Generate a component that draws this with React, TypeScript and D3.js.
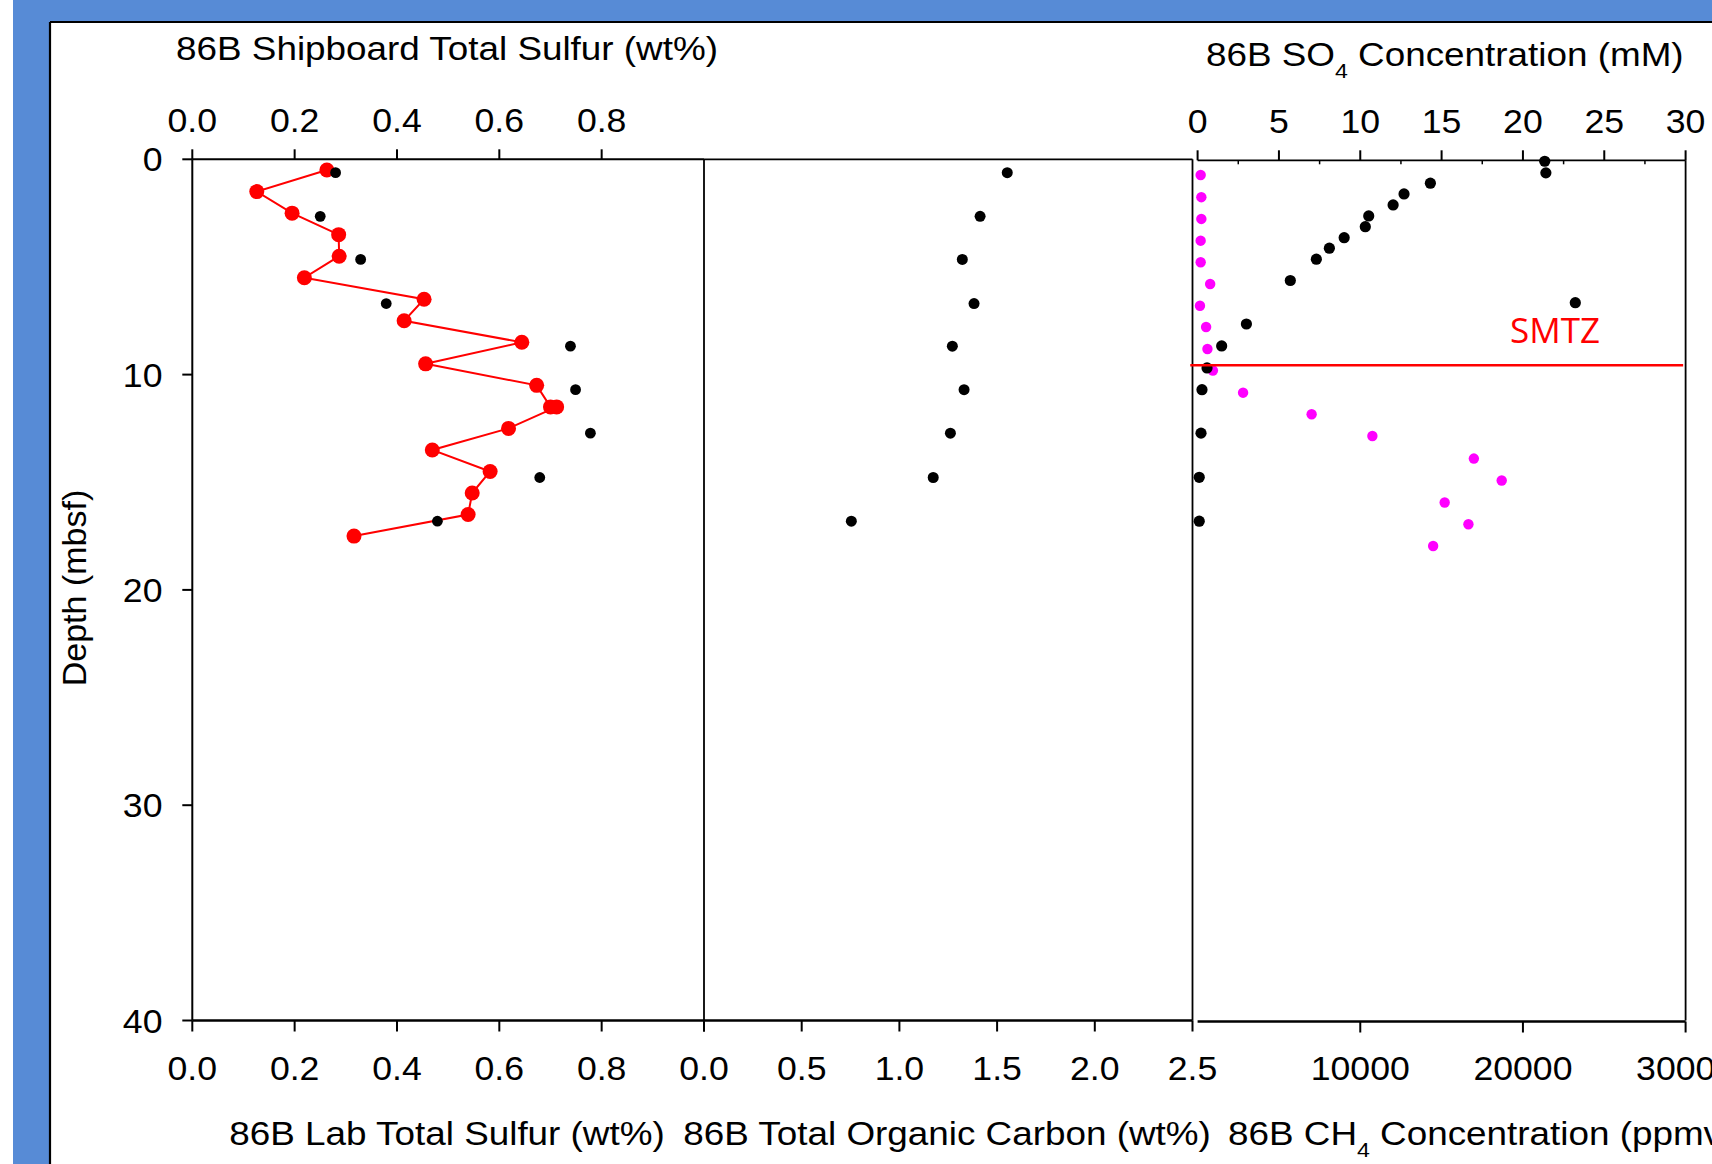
import React from 'react';
import * as d3 from 'd3';

// ---------- data ----------
const depthTicks = [0, 10, 20, 30, 40];
const sulfurTopTicks = [0, 0.2, 0.4, 0.6, 0.8];
const sulfurBottomTicks = [0, 0.2, 0.4, 0.6, 0.8, 1.0];
const sulfurBottomLabels = [0, 0.2, 0.4, 0.6, 0.8];
const tocTicks = [0, 0.5, 1.0, 1.5, 2.0, 2.5];
const so4Ticks = [0, 5, 10, 15, 20, 25, 30];
const so4MinorTicks = [2.5, 7.5, 12.5, 17.5, 22.5, 27.5];
const ch4Ticks = [10000, 20000, 30000];

// Lab total sulfur (red line + large red dots)
const labDepth = [0.5, 1.5, 2.5, 3.5, 4.5, 5.5, 6.5, 7.5, 8.5, 9.5, 10.5, 11.5, 11.5, 12.5, 13.5, 14.5, 15.5, 16.5, 17.5];
const labSulfur = [0.263, 0.126, 0.195, 0.286, 0.287, 0.219, 0.453, 0.414, 0.644, 0.456, 0.673, 0.700, 0.712, 0.618, 0.469, 0.582, 0.547, 0.539, 0.316];

// Shipboard samples (black dots): shipboard total sulfur and TOC
const shipDepth = [0.62, 2.65, 4.65, 6.7, 8.68, 10.7, 12.72, 14.78, 16.81];
const shipSulfur = [0.280, 0.250, 0.329, 0.379, 0.739, 0.749, 0.778, 0.679, 0.479];
const tocValues = [1.552, 1.413, 1.322, 1.382, 1.271, 1.331, 1.261, 1.173, 0.754];

// SO4 (black, top axis)
const so4Depth = [0.09, 0.63, 1.11, 1.61, 2.12, 2.63, 3.13, 3.64, 4.13, 4.64, 5.63, 6.66, 7.65, 8.67, 9.69, 10.7, 12.72, 14.77, 16.81];
const so4Values = [21.34, 21.41, 14.31, 12.69, 12.02, 10.52, 10.31, 9.01, 8.1, 7.3, 5.7, 23.22, 3.0, 1.48, 0.58, 0.27, 0.21, 0.1, 0.1];

// CH4 (magenta, bottom axis)
const ch4Depth = [0.73, 1.76, 2.77, 3.78, 4.78, 5.79, 6.8, 7.79, 8.81, 9.81, 10.84, 11.84, 12.85, 13.9, 14.92, 15.94, 16.95, 17.96];
const ch4Values = [188, 230, 230, 188, 188, 772, 146, 522, 605, 939, 2796, 7010, 10745, 16983, 18694, 15189, 16649, 14480];

const smtzDepth = 9.57;
const smtzLabel = 'SMTZ';

// ---------- layout ----------
const W = 1712;
const H = 1164;
const FONT = "'Liberation Sans', Arial, Helvetica, sans-serif";
const BLUE = '#578BD6';
const TOP = 159.3;
const BOTTOM = 1020.5;

const yScale = d3.scaleLinear().domain([0, 40]).range([TOP, BOTTOM]);
const xSulfur = d3.scaleLinear().domain([0, 1]).range([192.3, 704]);
const xToc = d3.scaleLinear().domain([0, 2.5]).range([704, 1192.5]);
const xSo4 = d3.scaleLinear().domain([0, 30]).range([1197.6, 1685.6]);
const xCh4 = d3.scaleLinear().domain([0, 30000]).range([1197.6, 1685.6]);

const f1 = d3.format('.1f');
const f0 = d3.format('d');

function Txt(props: any) {
  const { x, y, anchor = 'middle', size = 33, sx = 1.08, fill = '#000', family = FONT, children } = props;
  return (
    <text
      transform={`translate(${x},${y}) scale(${sx},1)`}
      textAnchor={anchor}
      fontSize={size}
      fontFamily={family}
      fill={fill}
    >
      {children}
    </text>
  );
}

const TS = 33.5; // title size
const TX = 1.1; // title horizontal stretch

export default function App() {
  const labPts = labDepth.map((d, i) => [labSulfur[i], d] as [number, number]);
  const line = d3
    .line<[number, number]>()
    .x((p) => xSulfur(p[0]))
    .y((p) => yScale(p[1]));

  const axisW = 2;
  const tickLen = 10;

  return (
    <svg
      width={W}
      height={H}
      viewBox={`0 0 ${W} ${H}`}
      style={{ position: 'absolute', left: 0, top: 0, display: 'block' }}
    >
      {/* background frame */}
      <rect x={0} y={0} width={W} height={H} fill={BLUE} />
      <rect x={0} y={0} width={13} height={H} fill="#ffffff" />
      <rect x={50} y={22} width={W - 50} height={H - 22} fill="#ffffff" />
      <line x1={50} y1={22} x2={W} y2={22} stroke="#000" strokeWidth={2.2} />
      <line x1={50} y1={22} x2={50} y2={H} stroke="#000" strokeWidth={2.2} />

      {/* ---------- panel frames ---------- */}
      {/* left panel */}
      <line x1={xSulfur(0)} y1={TOP} x2={xSulfur(0)} y2={BOTTOM} stroke="#000" strokeWidth={axisW} />
      <line x1={xSulfur(0)} y1={TOP} x2={xSulfur(1)} y2={TOP} stroke="#000" strokeWidth={axisW} />
      <line x1={xSulfur(1)} y1={TOP} x2={xSulfur(1)} y2={BOTTOM} stroke="#000" strokeWidth={1.8} />
      <line x1={xSulfur(0)} y1={BOTTOM} x2={xSulfur(1)} y2={BOTTOM} stroke="#000" strokeWidth={2.5} />
      {/* middle panel */}
      <line x1={xToc(0)} y1={TOP} x2={xToc(2.5)} y2={TOP} stroke="#000" strokeWidth={1.8} />
      <line x1={xToc(2.5)} y1={TOP} x2={xToc(2.5)} y2={BOTTOM} stroke="#000" strokeWidth={1.8} />
      <line x1={xToc(0)} y1={BOTTOM} x2={xToc(2.5)} y2={BOTTOM} stroke="#000" strokeWidth={2.5} />
      {/* right panel */}
      <line x1={xSo4(0)} y1={TOP + 1} x2={xSo4(30)} y2={TOP + 1} stroke="#000" strokeWidth={1.8} />
      <line x1={xSo4(30)} y1={TOP + 1} x2={xSo4(30)} y2={BOTTOM} stroke="#000" strokeWidth={1.8} />
      <line x1={xCh4(0)} y1={BOTTOM + 1} x2={xCh4(30000)} y2={BOTTOM + 1} stroke="#000" strokeWidth={2.5} />

      {/* ---------- depth axis ---------- */}
      {depthTicks.map((t) => (
        <g key={'dt' + t}>
          <line x1={xSulfur(0) - tickLen} y1={yScale(t)} x2={xSulfur(0)} y2={yScale(t)} stroke="#000" strokeWidth={2} />
          <Txt x={162.5} y={yScale(t) + 12} anchor="end">{f0(t)}</Txt>
        </g>
      ))}
      <text
        transform={`translate(86,588) rotate(-90)`}
        textAnchor="middle"
        fontSize={34}
        fontFamily={FONT}
        fill="#000"
      >
        Depth (mbsf)
      </text>

      {/* ---------- top sulfur axis ---------- */}
      {sulfurTopTicks.map((t) => (
        <g key={'st' + t}>
          <line x1={xSulfur(t)} y1={TOP - tickLen} x2={xSulfur(t)} y2={TOP} stroke="#000" strokeWidth={2} />
          <Txt x={xSulfur(t)} y={132}>{f1(t)}</Txt>
        </g>
      ))}
      <Txt x={447} y={60} size={TS} sx={TX}>86B Shipboard Total Sulfur (wt%)</Txt>

      {/* ---------- bottom sulfur axis ---------- */}
      {sulfurBottomTicks.map((t) => (
        <line key={'sb' + t} x1={xSulfur(t)} y1={BOTTOM} x2={xSulfur(t)} y2={BOTTOM + 11} stroke="#000" strokeWidth={2} />
      ))}
      {sulfurBottomLabels.map((t) => (
        <Txt key={'sbl' + t} x={xSulfur(t)} y={1080}>{f1(t)}</Txt>
      ))}
      <Txt x={447} y={1145} size={TS} sx={TX}>86B Lab Total Sulfur (wt%)</Txt>

      {/* ---------- TOC axis ---------- */}
      {tocTicks.map((t) => (
        <g key={'tt' + t}>
          <line x1={xToc(t)} y1={BOTTOM} x2={xToc(t)} y2={BOTTOM + 11} stroke="#000" strokeWidth={2} />
          <Txt x={xToc(t)} y={1080}>{f1(t)}</Txt>
        </g>
      ))}
      <Txt x={947} y={1145} size={TS} sx={TX}>86B Total Organic Carbon (wt%)</Txt>

      {/* ---------- SO4 axis ---------- */}
      {so4Ticks.map((t) => (
        <g key={'so' + t}>
          <line x1={xSo4(t)} y1={TOP + 1 - tickLen} x2={xSo4(t)} y2={TOP + 1} stroke="#000" strokeWidth={2} />
          <Txt x={xSo4(t)} y={133}>{f0(t)}</Txt>
        </g>
      ))}
      {so4MinorTicks.map((t) => (
        <line key={'som' + t} x1={xSo4(t)} y1={TOP + 1} x2={xSo4(t)} y2={TOP + 5} stroke="#000" strokeWidth={1.5} />
      ))}
      <Txt x={1206} y={66} anchor="start" size={TS} sx={TX}>
        86B SO<tspan fontSize={21} dy={12}>4</tspan>
        <tspan dy={-12}>{' Concentration (mM)'}</tspan>
      </Txt>

      {/* ---------- CH4 axis ---------- */}
      {ch4Ticks.map((t) => (
        <g key={'ch' + t}>
          <line x1={xCh4(t)} y1={BOTTOM + 1} x2={xCh4(t)} y2={BOTTOM + 12} stroke="#000" strokeWidth={2} />
          <Txt x={xCh4(t)} y={1080}>{f0(t)}</Txt>
        </g>
      ))}
      <Txt x={1228} y={1145} anchor="start" size={TS} sx={TX}>
        86B CH<tspan fontSize={21} dy={12}>4</tspan>
        <tspan dy={-12}>{' Concentration (ppmv)'}</tspan>
      </Txt>

      {/* ---------- data: left panel ---------- */}
      <path d={line(labPts) || ''} fill="none" stroke="#FF0000" strokeWidth={2} />
      {labPts.map((p, i) => (
        <circle key={'lab' + i} cx={xSulfur(p[0])} cy={yScale(p[1])} r={7.5} fill="#FF0000" />
      ))}
      {shipDepth.map((d, i) => (
        <circle key={'ship' + i} cx={xSulfur(shipSulfur[i])} cy={yScale(d)} r={5.4} fill="#000" />
      ))}

      {/* ---------- data: middle panel ---------- */}
      {shipDepth.map((d, i) => (
        <circle key={'toc' + i} cx={xToc(tocValues[i])} cy={yScale(d)} r={5.5} fill="#000" />
      ))}

      {/* ---------- data: right panel ---------- */}
      {ch4Depth.map((d, i) => (
        <circle key={'ch4' + i} cx={xCh4(ch4Values[i])} cy={yScale(d)} r={5.2} fill="#FF00FF" />
      ))}
      {so4Depth.map((d, i) => (
        <circle key={'so4' + i} cx={xSo4(so4Values[i])} cy={yScale(d)} r={5.6} fill="#000" />
      ))}
      <line
        x1={xSo4(-0.45)}
        y1={yScale(smtzDepth)}
        x2={xSo4(29.85)}
        y2={yScale(smtzDepth)}
        stroke="#FF0000"
        strokeWidth={2.5}
      />
      <Txt x={1555} y={343} size={35} sx={1} fill="#FF0000" family="'Open Sans', 'Noto Sans', sans-serif">
        {smtzLabel}
      </Txt>
    </svg>
  );
}
